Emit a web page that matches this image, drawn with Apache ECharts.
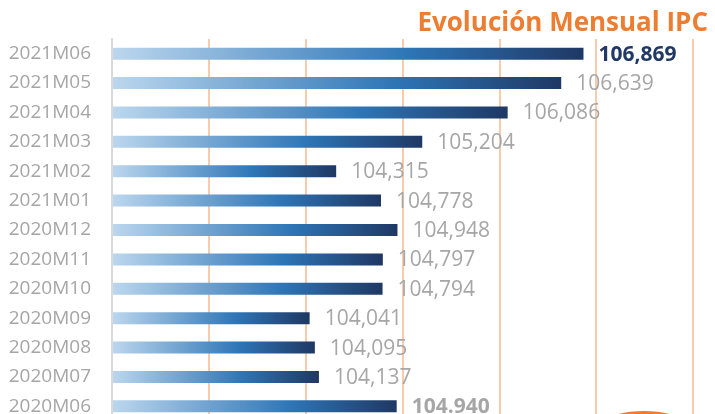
<!DOCTYPE html>
<html>
<head>
<meta charset="utf-8">
<script src="https://cdn.jsdelivr.net/npm/echarts@6/dist/echarts.min.js"></script>
<style>
  html, body { margin: 0; padding: 0; background: #fff; }
  #chart { width: 715px; height: 414px; }
</style>
</head>
<body>
<div id="chart"></div>
<script>
// IPC monthly index, top to bottom as in the picture
const months = ['2021M06', '2021M05', '2021M04', '2021M03', '2021M02', '2021M01',
    '2020M12', '2020M11', '2020M10', '2020M09', '2020M08', '2020M07', '2020M06'];
const ipcValues = [106.869, 106.639, 106.086, 105.204, 104.315, 104.778,
    104.948, 104.797, 104.794, 104.041, 104.095, 104.137, 104.940];
const labelTexts = ['106,869', '106,639', '106,086', '105,204', '104,315', '104,778',
    '104,948', '104,797', '104,794', '104,041', '104,095', '104,137', '104.940'];

const chart = echarts.init(document.getElementById('chart'));

const barGradient = new echarts.graphic.LinearGradient(0, 0, 1, 0, [
    { offset: 0, color: '#bcd7ee' },
    { offset: 0.63, color: '#2e75b6' },
    { offset: 1, color: '#1f3864' }
]);

// first and last labels are bold in the original
const seriesData = ipcValues.map((v, i) => {
    const item = { value: v };
    if (i === 0) {
        item.label = { color: '#1f3864', fontWeight: 'bold' };
    } else if (i === ipcValues.length - 1) {
        item.label = { fontWeight: 'bold' };
    }
    return item;
});

const option = {
    animation: false,
    title: {
        text: 'Evolución Mensual IPC',
        right: 2,
        top: 6,
        textStyle: {
            color: '#ed7d31',
            fontFamily: 'Open Sans',
            fontWeight: 'bold',
            fontSize: 26
        }
    },
    grid: {
        left: 112,
        right: 22,
        top: 39,
        height: 382,
        outerBoundsMode: 'none'
    },
    xAxis: {
        type: 'value',
        min: 102,
        max: 108,
        interval: 1,
        axisLabel: { show: false },
        axisLine: { show: false },
        axisTick: { show: false },
        splitLine: { lineStyle: { color: '#f8cbad', width: 2 } }
    },
    yAxis: {
        type: 'category',
        inverse: true,
        data: months,
        axisTick: { show: false },
        axisLine: { show: true, lineStyle: { color: '#d9d9d9', width: 2 } },
        axisLabel: {
            color: '#a6a6a6',
            fontFamily: 'Open Sans',
            fontSize: 19,
            margin: 21
        },
        z: 5
    },
    series: [{
        type: 'bar',
        data: seriesData,
        barWidth: 12,
        itemStyle: { color: barGradient },
        label: {
            show: true,
            position: 'right',
            distance: 15,
            offset: [0, 1],
            color: '#a6a6a6',
            fontFamily: 'Open Sans',
            fontSize: 21,
            formatter: (p) => labelTexts[p.dataIndex]
        }
    }],
    graphic: [{
        type: 'ellipse',
        shape: { cx: 644, cy: 432, rx: 50, ry: 21 },
        style: { fill: '#ed7d31' },
        z: 10
    }]
};

chart.setOption(option);
window.addEventListener('resize', () => chart.resize());
</script>
</body>
</html>
